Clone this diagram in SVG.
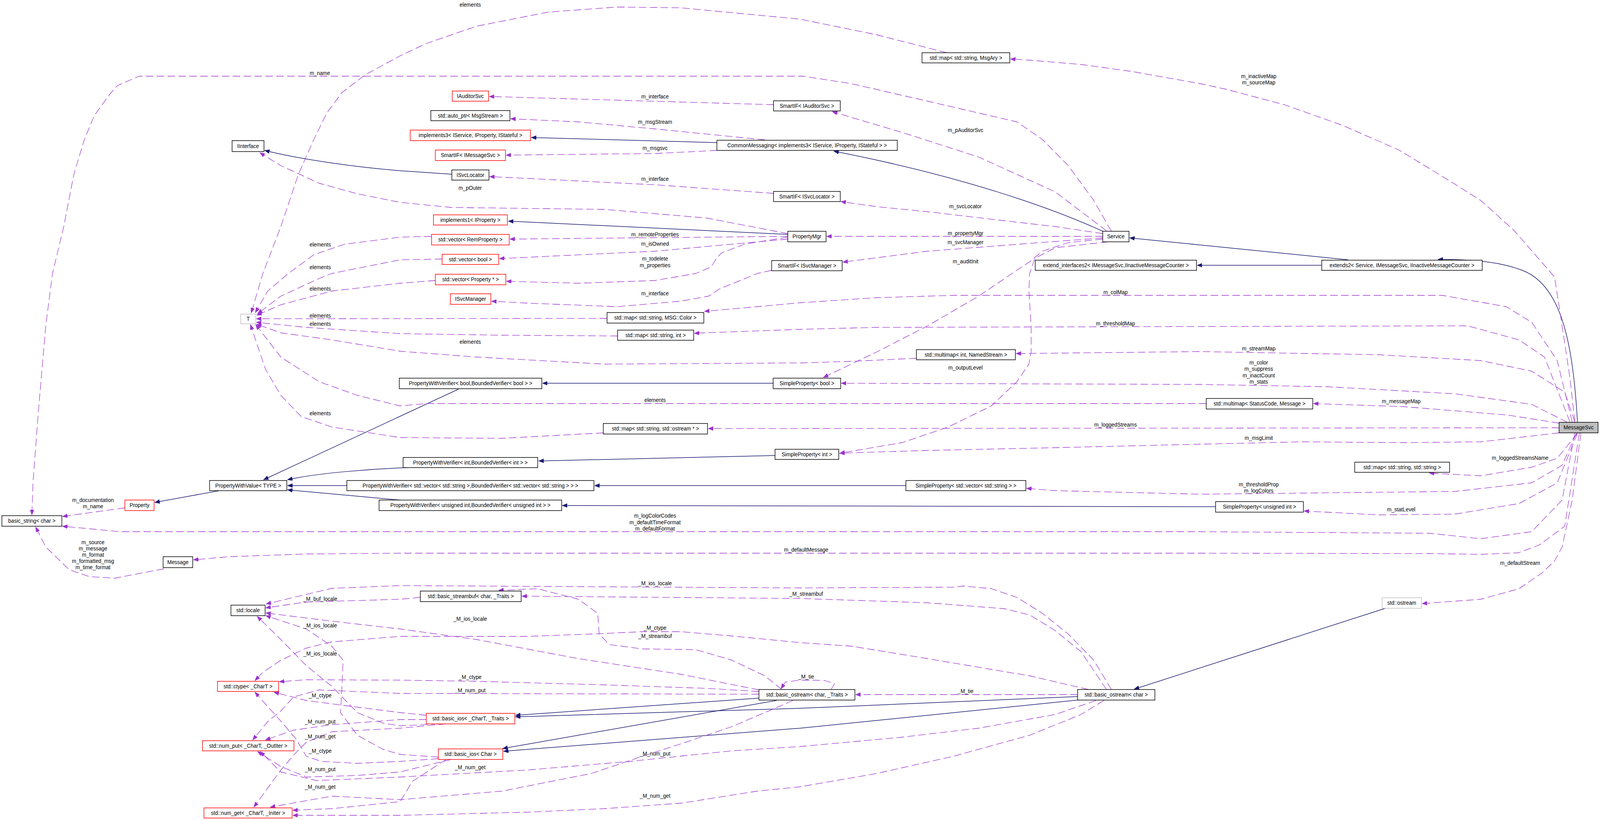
<svg xmlns="http://www.w3.org/2000/svg" width="4267" height="2099" viewBox="0 0 4267 2099">
<style>
text{font-family:"Liberation Sans",Arial,sans-serif;font-size:14px;fill:#000}
.n rect{fill:#fff;stroke:#000;stroke-width:1.5}
.n.r rect{stroke:#ff0000}
.n.g rect{stroke:#bfbfbf}
.n.f rect{fill:#bfbfbf}
.n text,.l{text-anchor:middle}
.i{fill:none;stroke:#191970;stroke-width:1.5;stroke-linejoin:round;marker-end:url(#an)}
.u{fill:none;stroke:#9a32cd;stroke-width:1.3;stroke-linejoin:round;stroke-dasharray:20,9;marker-end:url(#ap)}
</style>
<defs>
<marker id="an" markerUnits="userSpaceOnUse" markerWidth="14" markerHeight="11" refX="13" refY="5" orient="auto"><path d="M0,0L13,5L0,10z" fill="#191970" stroke="#191970"/></marker>
<marker id="ap" markerUnits="userSpaceOnUse" markerWidth="14" markerHeight="11" refX="13" refY="5" orient="auto"><path d="M0,0L13,5L0,10z" fill="#9a32cd" stroke="#9a32cd"/></marker>
</defs>
<rect width="4267" height="2099" fill="#fff"/>
<g id="diagram" transform="scale(0.9599,1)">
<g id="edges">
<path class="i" d="M1912,365L1417,352"/>
<path class="i" d="M2941,592C2800,530 2560,450 2224,387"/>
<path class="i" d="M3595,665L3200,627L3013,609"/>
<path class="i" d="M3525,679L3193,679"/>
<path class="i" d="M4207,1080C4195,880 4165,730 4060,692C4000,670 3930,664 3835,664"/>
<path class="i" d="M1205,446L1067,437C950,428 800,408 706,385"/>
<path class="i" d="M2101,600L1356,566"/>
<path class="i" d="M2062,981L1447,981"/>
<path class="i" d="M1223,996L703,1228"/>
<path class="i" d="M2067,1166L1437,1180"/>
<path class="i" d="M1087,1197C1000,1200 850,1210 767,1228"/>
<path class="i" d="M925,1243L767,1243"/>
<path class="i" d="M1067,1280L767,1254"/>
<path class="i" d="M2416,1243L1586,1243"/>
<path class="i" d="M3242,1297L1500,1294"/>
<path class="i" d="M585,1256L413,1286"/>
<path class="i" d="M3695,1557L3025,1764"/>
<path class="i" d="M2024,1787L1375,1831"/>
<path class="i" d="M2874,1783L2134,1813L1375,1835"/>
<path class="i" d="M2071,1793L1341,1916"/>
<path class="i" d="M2874,1792L2134,1864L1343,1923"/>

<path class="u" d="M2525,135L2338,89L2134,49L1816,20L1645,18L1462,31L1271,67L1135,112L1067,143L973,192L912,237L871,290L837,357L796,446L749,580L701,700L670,801"/>
<path class="u" d="M4200,1080L4187,968L4166,834L4146,709L4037,589L3949,513L3846,451L3731,384L3581,321L3425,268L3268,228L3200,214L3019,183L2883,165L2746,154L2695,151"/>
<path class="u" d="M2964,592L2917,513L2849,424L2780,357L2712,312L2474,259L2270,214L2141,195L371,195L313,219L293,241L252,295L225,357L197,446L170,580L140,700L122,834L102,1057L88,1236L85,1318"/>
<path class="u" d="M2101,598L1884,558L1611,536L1203,531L1067,518L953,496L851,469L749,424L693,391"/>
<path class="u" d="M2063,268L1305,247"/>
<path class="u" d="M2040,358L1747,330L1543,312L1362,304"/>
<path class="u" d="M1912,385L1747,393L1350,397"/>
<path class="u" d="M2063,495L1747,473L1306,452"/>
<path class="u" d="M2101,605L1360,612"/>
<path class="u" d="M2101,612L1747,643L1332,662"/>
<path class="u" d="M2101,607L1986,625L1925,647L1911,661L1897,683L1856,700L1747,718L1543,725L1351,720"/>
<path class="u" d="M2058,692L2020,700L1918,740L1890,758L1815,771L1645,785L1407,776L1311,771"/>
<path class="u" d="M1151,605L1067,607L919,625L837,652L769,700L714,745L681,800"/>
<path class="u" d="M1179,663L1067,665L885,700L851,713L749,758L687,803"/>
<path class="u" d="M1161,718L1067,725L885,745L749,780L685,807"/>
<path class="u" d="M1619,815L684,816"/>
<path class="u" d="M1647,860L1339,858L1067,854L817,838L684,825"/>
<path class="u" d="M2444,917L2270,925L2134,929L1611,932L1271,914L1067,899L885,870L749,852L684,830"/>
<path class="u" d="M3217,1033L2134,1033L1135,1033L1067,1039L953,1012L851,977L749,914L682,831"/>
<path class="u" d="M1609,1108L1339,1122L1067,1120L885,1093L803,1066L749,1012L708,945L668,831"/>
<path class="u" d="M2951,591L2814,491L2610,402L2406,339L2220,286"/>
<path class="u" d="M2941,598L2815,580L2678,565L2474,542L2338,529L2243,516"/>
<path class="u" d="M2941,605L2205,605"/>
<path class="u" d="M2941,609L2746,623L2474,643L2248,671"/>
<path class="u" d="M2941,612L2849,621L2780,643L2746,670L2699,700L2610,758L2474,834L2338,901L2196,966"/>
<path class="u" d="M2955,619L2815,634L2760,661L2746,700L2744,745L2750,834L2750,901L2744,932L2712,977L2644,1039L2529,1093L2406,1133L2240,1160"/>
<path class="u" d="M4193,1080L4153,923L4085,825L4017,785L3846,756L2542,756L2338,762L2134,775L2020,785L1879,797"/>
<path class="u" d="M4187,1080L4119,914L4051,870L3914,834L2338,838L2134,843L1852,853"/>
<path class="u" d="M4200,1080L4173,1004L4085,950L3949,923L3676,908L3200,900L2710,905"/>
<path class="u" d="M4180,1081L4085,1035L3880,1008L3540,990L3200,984L2244,981"/>
<path class="u" d="M4158,1083L4017,1062L3744,1041L3503,1033"/>
<path class="u" d="M4158,1095L1889,1097"/>
<path class="u" d="M4158,1108L3949,1131L3744,1133L3472,1131L3200,1137L2814,1146L2474,1153L2239,1160"/>
<path class="u" d="M4207,1109L4153,1173L4085,1196L3949,1218L3812,1211"/>
<path class="u" d="M4204,1109L4166,1191L4085,1236L3880,1258L3200,1265L2814,1256L2738,1250"/>
<path class="u" d="M4207,1109L4153,1236L4051,1289L3880,1316L3676,1318L3478,1308"/>
<path class="u" d="M4200,1109L4166,1280L4085,1361L3949,1379L3812,1365L3200,1361L320,1361L167,1347"/>
<path class="u" d="M4212,1109L4173,1347L4105,1395L4050,1415L3949,1419L3812,1417L3200,1416L1067,1416L817,1418L612,1425L516,1433"/>
<path class="u" d="M4216,1109L4193,1280L4166,1400L4146,1436L4112,1467L4051,1507L3949,1534L3793,1545"/>
<path class="u" d="M333,1300L167,1322"/>
<path class="u" d="M437,1456L306,1480L238,1476L184,1458L122,1400L95,1349"/>

<path class="u" d="M2964,1765L2917,1690L2849,1623L2780,1570L2712,1529L2644,1507L2570,1500L2542,1503L2134,1505L1067,1499L885,1506L710,1546"/>
<path class="u" d="M1121,1529L1067,1534L817,1541L709,1556"/>
<path class="u" d="M2024,1766L1816,1726L1543,1686L1271,1637L1067,1610L885,1590L709,1569"/>
<path class="u" d="M1169,1938L1067,1931L1021,1918L953,1882L908,1824L912,1757L915,1690L885,1654L817,1610L709,1576"/>
<path class="u" d="M1170,1853L1067,1858L1021,1851L953,1824L885,1757L817,1704L749,1637L686,1578"/>
<path class="u" d="M2951,1765L2883,1668L2814,1614L2746,1574L2678,1558L2474,1543L2134,1532L1392,1526"/>
<path class="u" d="M2085,1765L2040,1730L1952,1690L1856,1663L1713,1661L1625,1650L1598,1623L1594,1570L1543,1534L1434,1507L1330,1511"/>
<path class="u" d="M2216,1765L2226,1750L2200,1742L2168,1741L2134,1741L2094,1746L2083,1763"/>
<path class="u" d="M2874,1778L2282,1778"/>
<path class="u" d="M2903,1765L2746,1730L2474,1686L2270,1654L2134,1645L1952,1628L1816,1617L1713,1617L1577,1623L1407,1629L1067,1629L885,1643L817,1659L749,1690L701,1721L680,1742"/>
<path class="u" d="M2024,1770L1883,1762L1611,1753L1271,1744L1067,1741L817,1740L745,1745"/>
<path class="u" d="M1137,1831L1067,1824L919,1806L817,1793L731,1772"/>
<path class="u" d="M1169,1942L1067,1949L953,1954L857,1949L817,1936L789,1891L749,1846L708,1802L680,1772"/>
<path class="u" d="M2024,1777L1067,1775L851,1766L783,1784L749,1820L715,1846L674,1894"/>
<path class="u" d="M1137,1842L1067,1842L885,1855L783,1869L708,1894"/>
<path class="u" d="M1203,1944L1067,1976L953,1985L817,1989L749,1962L687,1924"/>
<path class="u" d="M2923,1793L2814,1829L2610,1864L2406,1887L2134,1911L1952,1922L1679,1949L1407,1971L1067,1989L844,1998L749,1976L694,1924"/>
<path class="u" d="M1189,1853L1067,1864L885,1873L817,1900L789,1927L749,1971L715,2016L677,2066"/>
<path class="u" d="M2115,1793L1952,1860L1816,1904L1713,1936L1577,1980L1339,2025L1067,2047L885,2038L721,2066"/>
<path class="u" d="M1190,1944L1100,2000L1067,2052L885,2070L781,2074"/>
<path class="u" d="M2944,1793L2883,1829L2746,1882L2542,1936L2338,1980L2134,2014L2020,2025L1816,2056L1611,2070L1407,2079L1067,2087L781,2087"/>
</g>
<g id="edge-labels">
<text class="l" x="1254" y="17">elements</text>
<text class="l" x="853" y="192">m_name</text>
<text class="l" x="3357" y="200">m_inactiveMap</text>
<text class="l" x="3357" y="216">m_sourceMap</text>
<text class="l" x="1747" y="252">m_interface</text>
<text class="l" x="1747" y="317">m_msgStream</text>
<text class="l" x="2575" y="338">m_pAuditorSvc</text>
<text class="l" x="1747" y="384">m_msgsvc</text>
<text class="l" x="1747" y="463">m_interface</text>
<text class="l" x="1254" y="486">m_pOuter</text>
<text class="l" x="2575" y="533">m_svcLocator</text>
<text class="l" x="1747" y="605">m_remoteProperties</text>
<text class="l" x="2575" y="602">m_propertyMgr</text>
<text class="l" x="2575" y="625">m_svcManager</text>
<text class="l" x="1747" y="629">m_isOwned</text>
<text class="l" x="854" y="631">elements</text>
<text class="l" x="1747" y="667">m_todelete</text>
<text class="l" x="1747" y="684">m_properties</text>
<text class="l" x="2575" y="674">m_auditInit</text>
<text class="l" x="854" y="689">elements</text>
<text class="l" x="854" y="744">elements</text>
<text class="l" x="1747" y="756">m_interface</text>
<text class="l" x="2975" y="753">m_colMap</text>
<text class="l" x="854" y="813">elements</text>
<text class="l" x="2975" y="833">m_thresholdMap</text>
<text class="l" x="854" y="834">elements</text>
<text class="l" x="1254" y="880">elements</text>
<text class="l" x="3357" y="897">m_streamMap</text>
<text class="l" x="3357" y="933">m_color</text>
<text class="l" x="3357" y="949">m_suppress</text>
<text class="l" x="3357" y="966">m_inactCount</text>
<text class="l" x="3357" y="982">m_stats</text>
<text class="l" x="2575" y="946">m_outputLevel</text>
<text class="l" x="1747" y="1029">elements</text>
<text class="l" x="3737" y="1032">m_messageMap</text>
<text class="l" x="854" y="1063">elements</text>
<text class="l" x="2975" y="1092">m_loggedStreams</text>
<text class="l" x="3357" y="1126">m_msgLimit</text>
<text class="l" x="4054" y="1177">m_loggedStreamsName</text>
<text class="l" x="3357" y="1245">m_thresholdProp</text>
<text class="l" x="3357" y="1261">m_logColors</text>
<text class="l" x="248" y="1285">m_documentation</text>
<text class="l" x="248" y="1301">m_name</text>
<text class="l" x="3737" y="1309">m_statLevel</text>
<text class="l" x="1747" y="1325">m_logColorCodes</text>
<text class="l" x="1747" y="1342">m_defaultTimeFormat</text>
<text class="l" x="1747" y="1358">m_defaultFormat</text>
<text class="l" x="248" y="1393">m_source</text>
<text class="l" x="248" y="1409">m_message</text>
<text class="l" x="248" y="1425">m_format</text>
<text class="l" x="248" y="1441">m_formatted_msg</text>
<text class="l" x="248" y="1457">m_time_format</text>
<text class="l" x="2150" y="1412">m_defaultMessage</text>
<text class="l" x="4054" y="1446">m_defaultStream</text>
<text class="l" x="1747" y="1498">_M_ios_locale</text>
<text class="l" x="2150" y="1525">_M_streambuf</text>
<text class="l" x="854" y="1538">_M_buf_locale</text>
<text class="l" x="1254" y="1589">_M_ios_locale</text>
<text class="l" x="854" y="1606">_M_ios_locale</text>
<text class="l" x="1747" y="1612">_M_ctype</text>
<text class="l" x="1747" y="1633">_M_streambuf</text>
<text class="l" x="854" y="1678">_M_ios_locale</text>
<text class="l" x="2150" y="1737">_M_tie</text>
<text class="l" x="1254" y="1738">_M_ctype</text>
<text class="l" x="1254" y="1772">_M_num_put</text>
<text class="l" x="2575" y="1774">_M_tie</text>
<text class="l" x="854" y="1785">_M_ctype</text>
<text class="l" x="854" y="1852">_M_num_put</text>
<text class="l" x="854" y="1890">_M_num_get</text>
<text class="l" x="854" y="1927">_M_ctype</text>
<text class="l" x="1747" y="1934">_M_num_put</text>
<text class="l" x="1254" y="1969">_M_num_get</text>
<text class="l" x="854" y="1974">_M_num_put</text>
<text class="l" x="854" y="2019">_M_num_get</text>
<text class="l" x="1747" y="2042">_M_num_get</text>
</g>
<g id="n1" class="n f"><rect x="4158" y="1081" width="104" height="27"/><text x="4210" y="1099">MessageSvc</text></g>
<g id="n2" class="n"><rect x="3525" y="666" width="428" height="26"/><text x="3739" y="684">extends2&lt; Service, IMessageSvc, IInactiveMessageCounter &gt;</text></g>
<g id="n3" class="n"><rect x="2941" y="592" width="70" height="27"/><text x="2976" y="610">Service</text></g>
<g id="n4" class="n"><rect x="2761" y="666" width="430" height="26"/><text x="2976" y="684">extend_interfaces2&lt; IMessageSvc,IInactiveMessageCounter &gt;</text></g>
<g id="n5" class="n"><rect x="1912" y="359" width="481" height="26"/><text x="2152.5" y="377">CommonMessaging&lt; implements3&lt; IService, IProperty, IStateful &gt; &gt;</text></g>
<g id="n6" class="n r"><rect x="1094" y="333" width="321" height="27"/><text x="1254.5" y="351">implements3&lt; IService, IProperty, IStateful &gt;</text></g>
<g id="n7" class="n"><rect x="619" y="360" width="85" height="28"/><text x="661.5" y="379">IInterface</text></g>
<g id="n8" class="n"><rect x="2063" y="258" width="178" height="26"/><text x="2152" y="276">SmartIF&lt; IAuditorSvc &gt;</text></g>
<g id="n9" class="n r"><rect x="1206" y="233" width="97" height="26"/><text x="1254.5" y="251">IAuditorSvc</text></g>
<g id="n10" class="n"><rect x="1149" y="283" width="211" height="26"/><text x="1254.5" y="301">std::auto_ptr&lt; MsgStream &gt;</text></g>
<g id="n11" class="n r"><rect x="1161" y="384" width="187" height="27"/><text x="1254.5" y="402">SmartIF&lt; IMessageSvc &gt;</text></g>
<g id="n12" class="n"><rect x="1205" y="435" width="99" height="26"/><text x="1254.5" y="453">ISvcLocator</text></g>
<g id="n13" class="n"><rect x="2063" y="490" width="178" height="26"/><text x="2152" y="508">SmartIF&lt; ISvcLocator &gt;</text></g>
<g id="n14" class="n"><rect x="2101" y="592" width="102" height="27"/><text x="2152" y="610">PropertyMgr</text></g>
<g id="n15" class="n r"><rect x="1156" y="550" width="197" height="26"/><text x="1254.5" y="568">implements1&lt; IProperty &gt;</text></g>
<g id="n16" class="n r"><rect x="1151" y="600" width="207" height="27"/><text x="1254.5" y="618">std::vector&lt; RemProperty &gt;</text></g>
<g id="n17" class="n r"><rect x="1179" y="651" width="151" height="26"/><text x="1254.5" y="669">std::vector&lt; bool &gt;</text></g>
<g id="n18" class="n r"><rect x="1161" y="702" width="188" height="27"/><text x="1255" y="720">std::vector&lt; Property * &gt;</text></g>
<g id="n19" class="n"><rect x="2058" y="667" width="188" height="26"/><text x="2152" y="685">SmartIF&lt; ISvcManager &gt;</text></g>
<g id="n20" class="n r"><rect x="1201" y="752" width="108" height="27"/><text x="1255" y="770">ISvcManager</text></g>
<g id="n21" class="n"><rect x="2459" y="135" width="234" height="26"/><text x="2576" y="153">std::map&lt; std::string, MsgAry &gt;</text></g>
<g id="n22" class="n g"><rect x="642" y="804" width="40" height="25"/><text x="662" y="821">T</text></g>
<g id="n23" class="n"><rect x="1619" y="800" width="258" height="27"/><text x="1748" y="818">std::map&lt; std::string, MSG::Color &gt;</text></g>
<g id="n24" class="n"><rect x="1647" y="845" width="203" height="26"/><text x="1748.5" y="863">std::map&lt; std::string, int &gt;</text></g>
<g id="n25" class="n"><rect x="2444" y="895" width="264" height="26"/><text x="2576" y="913">std::multimap&lt; int, NamedStream &gt;</text></g>
<g id="n26" class="n"><rect x="1065" y="968" width="380" height="27"/><text x="1255" y="986">PropertyWithVerifier&lt; bool,BoundedVerifier&lt; bool &gt; &gt;</text></g>
<g id="n27" class="n"><rect x="2062" y="968" width="180" height="27"/><text x="2152" y="986">SimpleProperty&lt; bool &gt;</text></g>
<g id="n28" class="n"><rect x="3217" y="1020" width="284" height="27"/><text x="3359" y="1038">std::multimap&lt; StatusCode, Message &gt;</text></g>
<g id="n29" class="n"><rect x="1609" y="1084" width="278" height="27"/><text x="1748" y="1102">std::map&lt; std::string, std::ostream * &gt;</text></g>
<g id="n30" class="n"><rect x="2067" y="1150" width="170" height="26"/><text x="2152" y="1168">SimpleProperty&lt; int &gt;</text></g>
<g id="n31" class="n"><rect x="1075" y="1171" width="359" height="26"/><text x="1254.5" y="1189">PropertyWithVerifier&lt; int,BoundedVerifier&lt; int &gt; &gt;</text></g>
<g id="n32" class="n"><rect x="3613" y="1183" width="253" height="26"/><text x="3739.5" y="1201">std::map&lt; std::string, std::string &gt;</text></g>
<g id="n33" class="n"><rect x="559" y="1230" width="206" height="26"/><text x="662" y="1248">PropertyWithValue&lt; TYPE &gt;</text></g>
<g id="n34" class="n"><rect x="925" y="1230" width="659" height="26"/><text x="1254.5" y="1248">PropertyWithVerifier&lt; std::vector&lt; std::string &gt;,BoundedVerifier&lt; std::vector&lt; std::string &gt; &gt; &gt;</text></g>
<g id="n35" class="n"><rect x="2416" y="1230" width="320" height="26"/><text x="2576" y="1248">SimpleProperty&lt; std::vector&lt; std::string &gt; &gt;</text></g>
<g id="n36" class="n r"><rect x="333" y="1280" width="78" height="27"/><text x="372" y="1298">Property</text></g>
<g id="n37" class="n"><rect x="1011" y="1280" width="487" height="27"/><text x="1254.5" y="1298">PropertyWithVerifier&lt; unsigned int,BoundedVerifier&lt; unsigned int &gt; &gt;</text></g>
<g id="n38" class="n"><rect x="3242" y="1284" width="234" height="27"/><text x="3359" y="1302">SimpleProperty&lt; unsigned int &gt;</text></g>
<g id="n39" class="n"><rect x="5" y="1320" width="160" height="27"/><text x="85" y="1338">basic_string&lt; char &gt;</text></g>
<g id="n40" class="n"><rect x="435" y="1425" width="79" height="28"/><text x="474.5" y="1444">Message</text></g>
<g id="n41" class="n"><rect x="616" y="1549" width="91" height="27"/><text x="661.5" y="1567">std::locale</text></g>
<g id="n42" class="n"><rect x="1121" y="1513" width="269" height="27"/><text x="1255.5" y="1531">std::basic_streambuf&lt; char, _Traits &gt;</text></g>
<g id="n43" class="n g"><rect x="3686" y="1530" width="105" height="27"/><text x="3738.5" y="1548">std::ostream</text></g>
<g id="n44" class="n r"><rect x="580" y="1744" width="163" height="26"/><text x="661.5" y="1762">std::ctype&lt; _CharT &gt;</text></g>
<g id="n45" class="n"><rect x="2024" y="1765" width="256" height="27"/><text x="2152" y="1783">std::basic_ostream&lt; char, _Traits &gt;</text></g>
<g id="n46" class="n"><rect x="2874" y="1765" width="206" height="27"/><text x="2977" y="1783">std::basic_ostream&lt; char &gt;</text></g>
<g id="n47" class="n r"><rect x="1137" y="1826" width="236" height="27"/><text x="1255" y="1844">std::basic_ios&lt; _CharT, _Traits &gt;</text></g>
<g id="n48" class="n r"><rect x="540" y="1896" width="244" height="26"/><text x="662" y="1914">std::num_put&lt; _CharT, _OutIter &gt;</text></g>
<g id="n49" class="n r"><rect x="1169" y="1917" width="172" height="27"/><text x="1255" y="1935">std::basic_ios&lt; Char &gt;</text></g>
<g id="n50" class="n r"><rect x="544" y="2068" width="235" height="26"/><text x="661.5" y="2086">std::num_get&lt; _CharT, _InIter &gt;</text></g>
</g>
</svg>
